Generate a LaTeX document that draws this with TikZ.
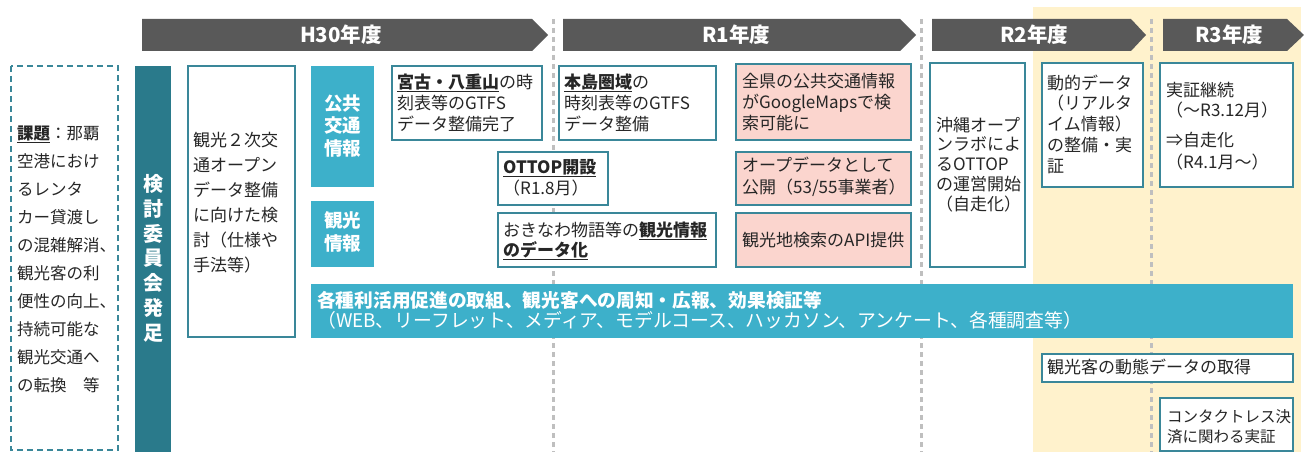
\documentclass[tikz,border=0pt]{standalone}
\usepackage{fontspec}
\setmainfont{Noto Sans CJK JP}
\definecolor{hdrgray}{HTML}{595959}
\definecolor{tealdark}{HTML}{2A7A8B}
\definecolor{bluefill}{HTML}{3DB0CA}
\definecolor{pinkfill}{HTML}{FBD5CE}
\definecolor{yellowbg}{HTML}{FFF2CC}
\definecolor{bord}{HTML}{3A8799}
\definecolor{sepgray}{HTML}{BFBFBF}
\definecolor{txtcol}{HTML}{262626}
\begin{document}
\begin{tikzpicture}[x=1pt,y=-1pt,
  hdr/.style={fill=hdrgray},
  hdrtxt/.style={text=white,font=\fontsize{20.5}{22}\selectfont\bfseries,anchor=base,inner sep=0},
  sepline/.style={draw=sepgray,line width=3pt,dash pattern=on 5pt off 4pt},
  wbox/.style={draw=bord,line width=1.3pt,fill=white},
  pbox/.style={draw=bord,line width=1.3pt,fill=pinkfill},
  bbox/.style={fill=bluefill},
  txt/.style={anchor=base west,inner sep=0,align=left,text=txtcol,font=\fontsize{17}{21}\selectfont},
  wtxt/.style={anchor=base,inner sep=0,align=center,text=white,font=\fontsize{18.5}{22.5}\selectfont\bfseries},
  dashbox/.style={draw=bord,line width=1.5pt,dash pattern=on 6pt off 4pt}]
\useasboundingbox (0,0) rectangle (1304,452);
% yellow background
\fill[yellowbg] (1033,7) rectangle (1301,452);
% separators
\coordinate (s1a) at (553,19); \coordinate (s1b) at (553,452);
\coordinate (s2a) at (921,19); \coordinate (s2b) at (921,452);
\coordinate (s3a) at (1151,19); \coordinate (s3b) at (1151,452);
\draw[sepline] (s1a) -- (s1b);
\draw[sepline] (s2a) -- (s2b);
\draw[sepline] (s3a) -- (s3b);
% headers
\fill[hdr] (142,19) -- (532,19) -- (548,35) -- (532,51) -- (142,51) -- cycle;
\fill[hdr] (563,19) -- (900,19) -- (916,35) -- (900,51) -- (563,51) -- cycle;
\fill[hdr] (932,19) -- (1131,19) -- (1146,35) -- (1131,51) -- (932,51) -- cycle;
\fill[hdr] (1163,19) -- (1287,19) -- (1304,35) -- (1287,51) -- (1163,51) -- cycle;
\node[hdrtxt] (h30) at (341,42.5) {H30年度};
\node[hdrtxt] (r1) at (736,42.5) {R1年度};
\node[hdrtxt] (r2) at (1034,42.5) {R2年度};
\node[hdrtxt] (r3) at (1229,42.5) {R3年度};
% left issue box
\draw[dashbox] (11,66) rectangle (118,450);
\node[txt,font=\fontsize{16.5}{28}\selectfont] (issue) at (17,391) {\textbf{\underline{課題}}：那覇\\空港におけ\\るレンタ\\カー貸渡し\\の混雑解消、\\観光客の利\\便性の向上、\\持続可能な\\観光交通へ\\の転換　等};
% committee bar
\fill[tealdark] (135,66) rectangle (171,452);
\node[wtxt,font=\fontsize{20}{24.7}\selectfont\bfseries] (comm) at (153,340) {検\\討\\委\\員\\会\\発\\足};
% study box
\draw[wbox] (188,66) rectangle (295,337);
\node[txt,font=\fontsize{17}{25}\selectfont] (study) at (193,271) {観光２次交\\通オープン\\データ整備\\に向けた検\\討（仕様や\\手法等）};
% blue boxes
\fill[bbox] (311,66) rectangle (374,187);
\node[wtxt] (pub) at (342.5,155) {公共\\交通\\情報};
\fill[bbox] (311,201) rectangle (374,267);
\node[wtxt] (tour) at (342.5,250) {観光\\情報};
% long bar
\fill[bbox] (311,284) rectangle (1293,338);
\node[txt,text=white,font=\fontsize{18.7}{20}\selectfont\bfseries] (prom1) at (317,307) {各種利活用促進の取組、観光客への周知・広報、効果検証等};
\node[txt,text=white,font=\fontsize{18.8}{20}\selectfont] (prom2) at (317,327) {（WEB、リーフレット、メディア、モデルコース、ハッカソン、アンケート、各種調査等）};
% H30 / R1 boxes
\draw[wbox] (392,66) rectangle (542,140);
\node[txt] (miyako) at (397,130) {\textbf{\underline{宮古・八重山}}の時\\刻表等のGTFS\\データ整備完了};
\draw[wbox] (559,66) rectangle (716,140);
\node[txt] (honto) at (564,130) {\textbf{\underline{本島圏域}}の\\時刻表等のGTFS\\データ整備};
\draw[wbox] (498,152) rectangle (608,205);
\node[txt] (ottop) at (503,194) {\textbf{\underline{OTTOP開設}}\\（R1.8月）};
\draw[wbox] (498,213) rectangle (716,267);
\node[txt,font=\fontsize{17}{20}\selectfont] (okinawa) at (503,256) {おきなわ物語等の\textbf{\underline{観光情報}}\\\textbf{\underline{のデータ化}}};
% pink boxes
\draw[pbox] (736,64) rectangle (911,140);
\node[txt] (google) at (742,129) {全県の公共交通情報\\がGoogleMapsで検\\索可能に};
\draw[pbox] (736,152) rectangle (911,205);
\node[txt,font=\fontsize{17}{22}\selectfont] (open) at (742,193) {オープデータとして\\公開（53/55事業者）};
\draw[pbox] (736,213) rectangle (911,267);
\node[txt] (api) at (742,246) {観光地検索のAPI提供};
% R2 / R3 boxes
\draw[wbox] (930,63) rectangle (1025,267);
\node[txt,font=\fontsize{17}{19.8}\selectfont] (lab) at (936,210.2) {沖縄オープ\\ンラボによ\\るOTTOP\\の運営開始\\（自走化）};
\draw[wbox] (1042,63) rectangle (1143,187);
\node[txt,font=\fontsize{17}{20.8}\selectfont] (dyn) at (1047,172.2) {動的データ\\（リアルタ\\イム情報）\\の整備・実\\証};
\draw[wbox] (1160,63) rectangle (1293,187);
\node[txt,font=\fontsize{17}{20.5}\selectfont] (cont1) at (1166,116.5) {実証継続\\（～R3.12月）};
\node[txt,font=\fontsize{17}{22}\selectfont] (cont2) at (1166,168) {⇒自走化\\（R4.1月～）};
\draw[wbox] (1042,354) rectangle (1293,382);
\node[txt] (flow) at (1047,373) {観光客の動態データの取得};
\draw[wbox] (1160,398) rectangle (1293,451);
\node[txt,font=\fontsize{15.5}{20}\selectfont] (pay) at (1167,442) {コンタクトレス決\\済に関わる実証};
\end{tikzpicture}
\end{document}
